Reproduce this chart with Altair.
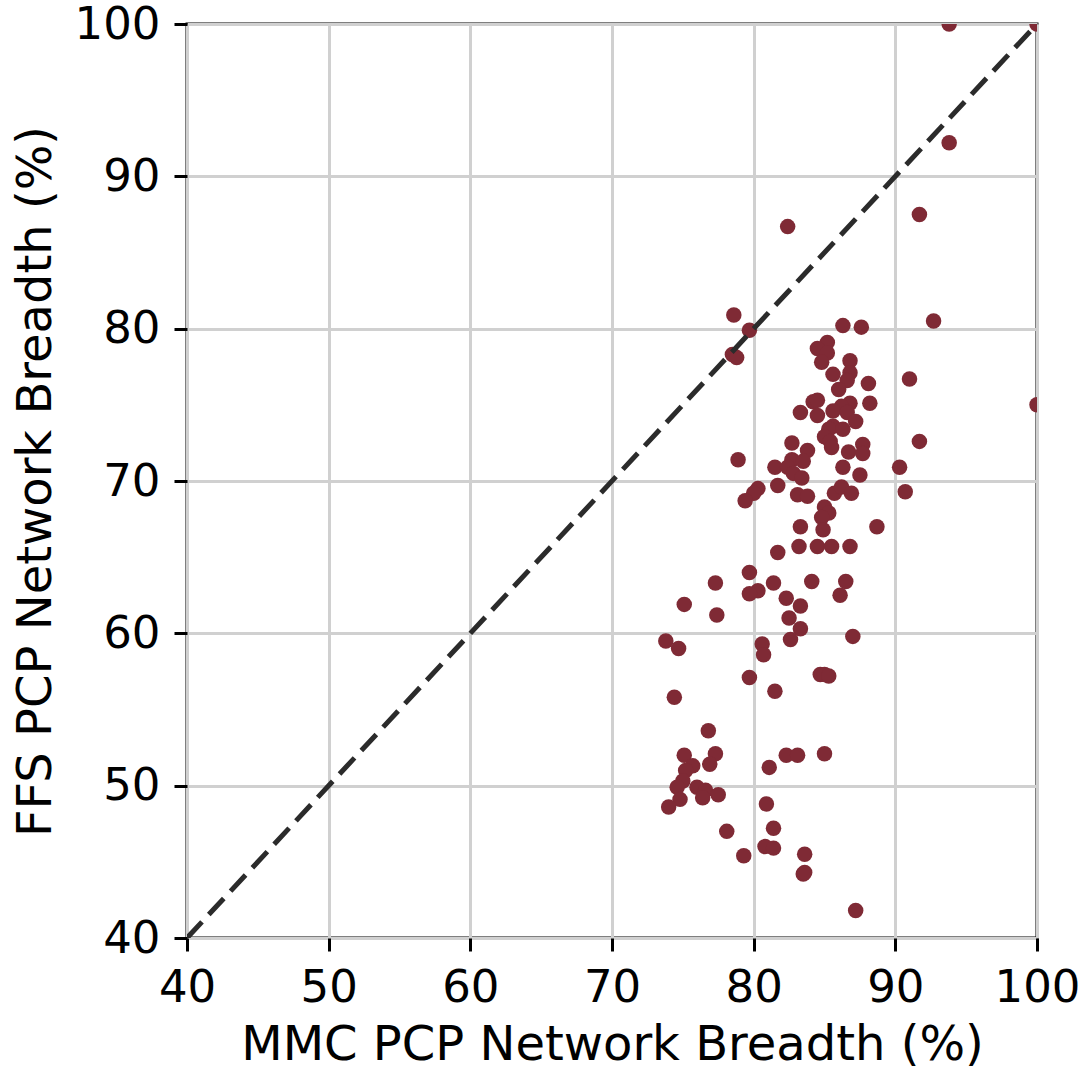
import altair as alt
import pandas as pd

# MMC PCP network breadth (%) for each entity
mmc = [
    93.8, 100.0, 93.8, 91.7, 92.7, 82.4, 100.0, 91.0, 91.7, 90.3,
    90.7, 88.7, 78.6, 79.7, 78.5, 78.8, 78.9, 86.3, 87.6, 85.2,
    84.5, 85.2, 84.8, 86.8, 85.6, 86.8, 86.6, 86.0, 88.1, 84.2,
    84.5, 88.2, 86.8, 86.2, 85.6, 86.6, 83.3, 84.5, 87.2, 85.6,
    85.3, 86.3, 85.0, 85.4, 82.7, 87.7, 85.5, 83.8, 86.7, 87.7,
    82.7, 83.5, 81.5, 82.4, 86.3, 87.5, 82.8, 83.4, 81.7, 80.3,
    80.0, 79.4, 83.1, 83.8, 85.7, 86.2, 86.9, 85.0, 85.3, 84.8,
    83.3, 84.9, 81.7, 83.2, 84.5, 85.5, 86.8, 79.7, 77.3, 80.3,
    79.7, 81.4, 84.1, 86.5, 86.1, 82.3, 83.3, 75.1, 77.4, 82.5,
    83.3, 82.6, 87.0, 73.8, 74.7, 80.6, 80.7, 79.7, 81.5, 84.7,
    85.0, 85.3, 74.4, 76.8, 75.1, 77.3, 76.9, 75.7, 75.2, 75.0,
    74.6, 76.0, 76.6, 76.4, 77.5, 74.8, 74.0, 82.3, 83.1, 85.0,
    81.1, 80.9, 78.1, 81.4, 80.8, 81.4, 79.3, 83.6, 83.5, 83.6,
    87.2,
]

# FFS PCP network breadth (%) for the same entities
ffs = [
    100.0, 100.0, 92.2, 87.5, 80.5, 86.7, 75.0, 76.7, 72.6, 70.9,
    69.3, 67.0, 80.9, 79.9, 78.3, 78.1, 71.4, 80.2, 80.1, 79.1,
    78.7, 78.4, 77.8, 77.9, 77.0, 77.1, 76.6, 76.0, 76.4, 75.2,
    75.3, 75.1, 75.1, 74.9, 74.6, 74.5, 74.5, 74.3, 73.9, 73.6,
    73.4, 73.4, 72.9, 72.6, 72.5, 72.4, 72.2, 72.0, 71.9, 71.8,
    71.4, 71.3, 70.9, 70.9, 70.9, 70.4, 70.5, 70.2, 69.7, 69.5,
    69.2, 68.7, 69.1, 69.0, 69.2, 69.6, 69.2, 68.3, 67.9, 67.6,
    67.0, 66.8, 65.3, 65.7, 65.7, 65.7, 65.7, 64.0, 63.3, 62.8,
    62.6, 63.3, 63.4, 63.4, 62.5, 62.3, 61.8, 61.9, 61.2, 61.0,
    60.3, 59.6, 59.8, 59.5, 59.0, 59.3, 58.6, 57.1, 56.2, 57.3,
    57.3, 57.2, 55.8, 53.6, 52.0, 52.1, 51.4, 51.3, 51.0, 50.3,
    49.9, 49.9, 49.7, 49.2, 49.4, 49.1, 48.6, 52.0, 52.0, 52.1,
    51.2, 48.8, 47.0, 47.2, 46.0, 45.9, 45.4, 45.5, 44.2, 44.3,
    41.8,
]

# parity line endpoints
diag_x = [40, 100]
diag_y = [40, 100]

ticks = [40, 50, 60, 70, 80, 90, 100]

points = pd.DataFrame({"mmc": mmc, "ffs": ffs})
diag = pd.DataFrame({"mmc": diag_x, "ffs": diag_y})

FONT = "DejaVu Sans"

x_enc = alt.X(
    "mmc:Q",
    scale=alt.Scale(domain=[40, 100], nice=False, zero=False),
    axis=alt.Axis(
        title="MMC PCP Network Breadth (%)",
        values=ticks,
        titleY=121,
        titleBaseline="alphabetic",
        labelFlush=False,
    ),
)
y_enc = alt.Y(
    "ffs:Q",
    scale=alt.Scale(domain=[40, 100], nice=False, zero=False),
    axis=alt.Axis(
        title="FFS PCP Network Breadth (%)",
        values=ticks,
        titleX=-137,
        titleBaseline="alphabetic",
        labelFlush=False,
    ),
)

scatter = alt.Chart(points).mark_circle(
    size=240, color="#7f2a35", opacity=1, clip=True
).encode(x=x_enc, y=y_enc)

line = alt.Chart(diag).mark_line(
    color="#2b2b2b", strokeWidth=5, strokeDash=[22, 10], clip=True
).encode(x="mmc:Q", y="ffs:Q")

chart = (
    alt.layer(scatter, line)
    .properties(
        width=850,
        height=914,
        autosize=alt.AutoSizeParams(type="none"),
        padding={"left": 187, "top": 24, "right": 47, "bottom": 131},
        background="white",
    )
    .configure_view(stroke="black", strokeWidth=3)
    .configure_axis(
        domain=False,
        grid=True,
        gridColor="#d0d0d0",
        gridWidth=3,
        ticks=True,
        tickColor="black",
        tickWidth=3,
        tickSize=13,
        labelFont=FONT,
        labelFontSize=45,
        labelColor="black",
        labelPadding=14,
        titleFont=FONT,
        titleFontSize=48,
        titleFontWeight="normal",
        titleColor="black",
    )
)

chart.save("out.html", embed_options={"renderer": "svg", "actions": False})
